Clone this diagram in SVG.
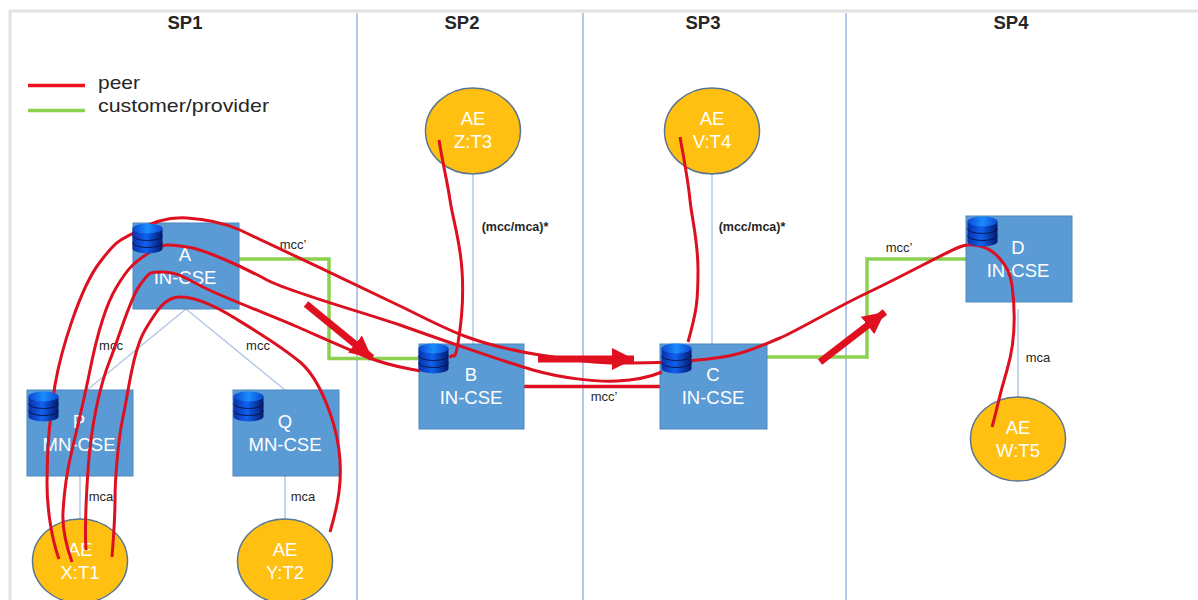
<svg xmlns="http://www.w3.org/2000/svg" width="1198" height="600" viewBox="0 0 1198 600">
<style>
text{font-family:"Liberation Sans",Arial,sans-serif;fill:#262626}
.sp{font-size:18.500px;font-weight:700;text-anchor:middle}
.leg{font-size:19px}
.lab{font-size:13px;text-anchor:middle}
.b{font-weight:700;font-size:12.500px}
.nt{font-size:18.500px;fill:#fff;text-anchor:middle}
.box{fill:#5b9bd5;stroke:#4f88bd;stroke-width:1}
.ae{fill:#ffc012;stroke:#5a7690;stroke-width:1.500}
.div{stroke:#b4c7e7;stroke-width:2;fill:none}
.thin{stroke:#b4c7e7;stroke-width:1.500;fill:none}
.green{stroke:#8cd050;stroke-width:3.500;fill:none}
.peer{stroke:#dc1020;stroke-width:3;fill:none;stroke-linecap:butt}
.fat{stroke:#e01020;stroke-width:7;fill:none;marker-end:url(#head)}
</style>
<defs>
<marker id="head" markerUnits="userSpaceOnUse" markerWidth="24" markerHeight="22" refX="22" refY="11" orient="auto"><polygon points="0,0 22,11 0,22" fill="#e01020"/></marker>
<linearGradient id="cyl" x1="0" x2="1" y1="0" y2="0"><stop offset="0" stop-color="#0a2fa8"/><stop offset=".45" stop-color="#0f62f0"/><stop offset="1" stop-color="#04186e"/></linearGradient>
<linearGradient id="cyltop" x1="0" x2="1" y1="0" y2="0"><stop offset="0" stop-color="#0a48d0"/><stop offset=".5" stop-color="#1a8cff"/><stop offset="1" stop-color="#0a48d0"/></linearGradient>
<g id="db">
<path d="M0.500 5.500V25.500A15 5 0 0 0 30.500 25.500V5.500Z" fill="url(#cyl)"/>
<ellipse cx="15.500" cy="5.500" rx="15" ry="5" fill="url(#cyltop)"/>
<path d="M0.500 12.500A15 5 0 0 0 30.500 12.500M0.500 19.500A15 5 0 0 0 30.500 19.500" fill="none" stroke="#06174f" stroke-width="1"/>
</g>
</defs>
<rect width="1198" height="600" fill="#fff"/>
<g id="frame">
<path d="M1198 11H10V600" fill="none" stroke="#e2e2e2" stroke-width="3"/>
<path class="div" d="M357 13V600M583 13V600M846 13V600"/>
<text class="sp" x="185" y="29">SP1</text>
<text class="sp" x="462" y="29">SP2</text>
<text class="sp" x="703" y="29">SP3</text>
<text class="sp" x="1011" y="29">SP4</text>
</g>
<g id="legend">
<path d="M28 85.500H85" stroke="#f01020" stroke-width="3.500"/>
<path d="M28 110.500H85" stroke="#8cd050" stroke-width="3.500"/>
<text class="leg" x="98" y="89" textLength="42" lengthAdjust="spacingAndGlyphs">peer</text>
<text class="leg" x="98" y="112" textLength="171" lengthAdjust="spacingAndGlyphs">customer/provider</text>
</g>
<g id="connectors">
<path class="thin" d="M186 309L87 390M186 309L285 390M80 476V525M285 476V525M473 174V344M712 174V344M1018 309V398"/>
<path class="green" d="M239 259H329V358.500H419"/>
<path class="green" d="M767 357H867V259H966"/>
<path d="M524 386.500H660" stroke="#dc1020" stroke-width="3.500"/>
<text class="lab" x="293" y="249">mcc’</text>
<text class="lab" x="111" y="350">mcc</text>
<text class="lab" x="258" y="350">mcc</text>
<text class="lab" x="101" y="501">mca</text>
<text class="lab" x="303" y="501">mca</text>
<text class="lab b" x="515" y="231">(mcc/mca)*</text>
<text class="lab b" x="752" y="231">(mcc/mca)*</text>
<text class="lab" x="604" y="401">mcc’</text>
<text class="lab" x="899" y="252">mcc’</text>
<text class="lab" x="1038" y="362">mca</text>
</g>
<g id="node-A"><rect class="box" x="133" y="223" width="106" height="86"/><text class="nt" x="185" y="261">A</text><text class="nt" x="185" y="284">IN-CSE</text></g>
<g id="node-P"><rect class="box" x="27" y="390" width="106" height="86"/><text class="nt" x="79" y="428">P</text><text class="nt" x="79" y="451">MN-CSE</text></g>
<g id="node-Q"><rect class="box" x="233" y="390" width="106" height="86"/><text class="nt" x="285" y="428">Q</text><text class="nt" x="285" y="451">MN-CSE</text></g>
<g id="node-B"><rect class="box" x="419" y="344" width="105" height="85"/><text class="nt" x="471" y="381">B</text><text class="nt" x="471" y="404">IN-CSE</text></g>
<g id="node-C"><rect class="box" x="660" y="344" width="107" height="85"/><text class="nt" x="713" y="381">C</text><text class="nt" x="713" y="404">IN-CSE</text></g>
<g id="node-D"><rect class="box" x="966" y="216" width="106" height="86"/><text class="nt" x="1018" y="254">D</text><text class="nt" x="1018" y="277">IN-CSE</text></g>
<g id="node-X"><ellipse class="ae" cx="80" cy="561" rx="47.500" ry="42"/><text class="nt" x="80" y="556">AE</text><text class="nt" x="80" y="579">X:T1</text></g>
<g id="node-Y"><ellipse class="ae" cx="285" cy="561" rx="47.500" ry="42"/><text class="nt" x="285" y="556">AE</text><text class="nt" x="285" y="579">Y:T2</text></g>
<g id="node-Z"><ellipse class="ae" cx="473" cy="131" rx="47.500" ry="43"/><text class="nt" x="473" y="125">AE</text><text class="nt" x="473" y="148">Z:T3</text></g>
<g id="node-V"><ellipse class="ae" cx="712" cy="131" rx="47.500" ry="43"/><text class="nt" x="712" y="125">AE</text><text class="nt" x="712" y="148">V:T4</text></g>
<g id="node-W"><ellipse class="ae" cx="1018" cy="439" rx="47.500" ry="42"/><text class="nt" x="1018" y="434">AE</text><text class="nt" x="1018" y="457">W:T5</text></g>
<g id="peer-paths">
<path class="peer" d="M59 559C52 540 47 510 47 483S49 420 55 385S80 288 100 262S122 240 137 231S170 217 187 218S222 222 240 230S375 294 400 306S445 329 467 337S515 351 540 355S595 363 617 363S650 363 670 362S715 359 733 355S765 344 780 338S835 308 867 293S945 253 957 248S975 245 983 247S1009 262 1012 285S1016 340 1007 370S997 410 992 427"/>
<path class="peer" d="M72 562C66 545 62 530 63 512S66 475 72 450S85 395 90 370S103 310 116 288S135 262 150 252S170 245 187 247S245 268 267 280S375 316 400 325S505 362 533 370S595 382 617 381S650 377 662 372"/>
<path class="peer" d="M86 550C85 535 85 515 88 470S100 385 110 360S130 298 140 285S148 272 163 272S185 278 205 288S275 317 300 328S345 348 367 357S405 368 420 371"/>
<path class="peer" d="M112 557C114 530 115 520 115 500S118 440 123 417S133 350 145 330S165 297 180 297S215 306 233 317S280 345 300 362S335 420 339 450S338 505 330 532"/>
<path class="peer" d="M439 140C443 165 447 180 450 200S460 240 462 270S462 320 458 343S454 350 450 358"/>
<path class="peer" d="M680 137C685 165 688 180 690 200S698 240 698 270S697 310 688 342"/>
<path class="fat" d="M306 304L372 358"/>
<path class="fat" d="M538 359L634 359"/>
<path class="fat" d="M820 362L885 312"/>
</g>
<g id="stores">
<use href="#db" x="132" y="223"/>
<use href="#db" x="28" y="391"/>
<use href="#db" x="233" y="391"/>
<use href="#db" x="418" y="343"/>
<use href="#db" x="661" y="343"/>
<use href="#db" x="967" y="216"/>
</g>
</svg>
